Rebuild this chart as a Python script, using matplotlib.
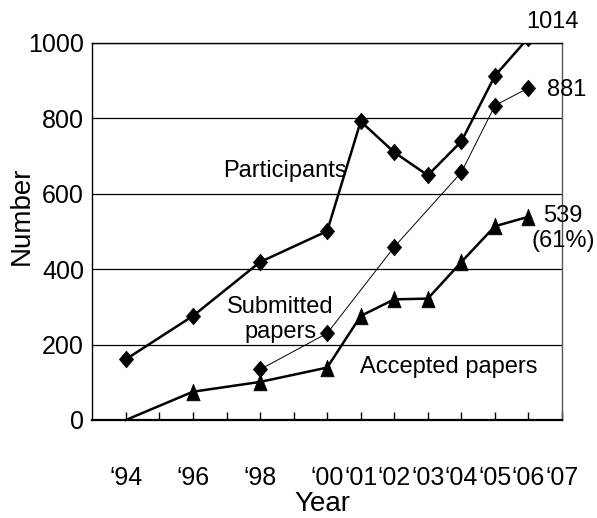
import matplotlib.pyplot as plt
from matplotlib.path import Path

# Data
years_participants = [1994, 1996, 1998, 2000, 2001, 2002, 2003, 2004, 2005, 2006]
participants = [161, 276, 419, 501, 792, 710, 649, 739, 913, 1014]

years_submitted = [1998, 2000, 2002, 2004, 2005, 2006]
submitted = [134, 230, 459, 657, 834, 881]

years_accepted = [1994, 1996, 1998, 2000, 2001, 2002, 2003, 2004, 2005, 2006]
accepted = [0, 75, 101, 139, 276, 320, 322, 419, 514, 539]

tick_years = list(range(1994, 2008))
tick_labels = ['\u201894', '', '\u201896', '', '\u201898', '', '\u201800', '\u201801',
               '\u201802', '\u201803', '\u201804', '\u201805', '\u201806', '\u201807']
y_ticks = [0, 200, 400, 600, 800, 1000]

plt.rcParams['font.family'] = ['Liberation Sans', 'DejaVu Sans']

# Excel-like markers
diamond = Path([(0, 1), (0.85, 0), (0, -1), (-0.85, 0), (0, 1)],
               [Path.MOVETO, Path.LINETO, Path.LINETO, Path.LINETO, Path.CLOSEPOLY])
triangle = Path([(0, 1), (0.8, -1), (-0.8, -1), (0, 1)],
                [Path.MOVETO, Path.LINETO, Path.LINETO, Path.CLOSEPOLY])

fig = plt.figure(figsize=(5.97, 5.18), dpi=100)
ax = fig.add_axes([0.1546, 0.1892, 0.7868, 0.7278])

# Plot data
ax.plot(years_participants, participants, color='black', lw=1.8, marker=diamond,
        markersize=12, markerfacecolor='black', markeredgewidth=0.5, zorder=4)
ax.plot(years_submitted, submitted, color='black', lw=0.7, marker=diamond,
        markersize=12, markerfacecolor='black', markeredgewidth=0.5, zorder=3)
ax.plot(years_accepted, accepted, color='black', lw=1.8, marker=triangle,
        markersize=12, markerfacecolor='black', markeredgewidth=0.5,
        markevery=list(range(1, len(accepted))), zorder=4, clip_on=False)

# Axes styling
ax.set_xlim(1993, 2007)
ax.set_ylim(0, 1000)
ax.set_xticks(tick_years)
ax.set_xticklabels(tick_labels, fontsize=18)
ax.set_yticks(y_ticks)
ax.set_yticklabels([str(v) for v in y_ticks], fontsize=18)
ax.tick_params(axis='x', direction='in', length=6, width=1, pad=33, color='black')
ax.tick_params(axis='y', length=0, pad=6)
ax.yaxis.grid(True, color='black', lw=0.9)
ax.set_axisbelow(True)

ax.spines['left'].set_linewidth(1.0)
ax.spines['bottom'].set_linewidth(1.6)
ax.spines['top'].set_linewidth(1.0)
ax.spines['right'].set_color('#555555')
ax.spines['right'].set_linewidth(1.0)

ax.set_xlabel('Year', fontsize=20, va='center')
ax.set_ylabel('Number', fontsize=20, va='center')
ax.xaxis.set_label_coords(0.49, -0.224)
ax.yaxis.set_label_coords(-0.15, 0.541)

# Annotations
ax.text(2005.93, 1056, '1014', fontsize=17, ha='left', va='center', clip_on=False)
ax.text(2006.55, 875, '881', fontsize=17, ha='left', va='center', clip_on=False)
ax.text(2006.43, 540, '539', fontsize=17, ha='left', va='center', clip_on=False)
ax.text(2006.1, 475, '(61%)', fontsize=17, ha='left', va='center', clip_on=False)
ax.text(1996.9, 660, 'Participants', fontsize=17, ha='left', va='center')
ax.text(1998.6, 267, 'Submitted\npapers', fontsize=17, ha='center', va='center',
        multialignment='center', linespacing=1.15)
ax.text(2003.62, 141, 'Accepted papers', fontsize=17, ha='center', va='center')

# Export graph
plt.savefig('out.png', dpi=100)
